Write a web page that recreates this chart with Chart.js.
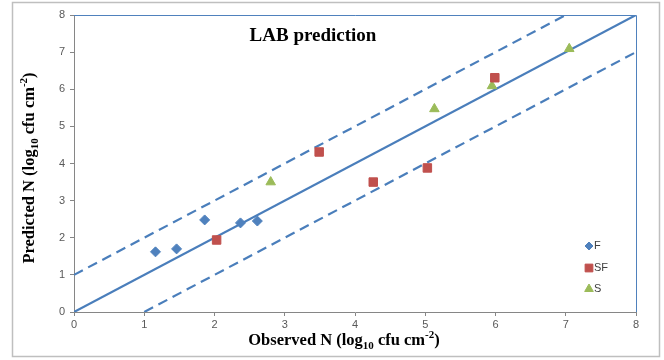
<!DOCTYPE html>
<html>
<head>
<meta charset="utf-8">
<script src="https://cdn.jsdelivr.net/npm/chart.js@4"></script>
<style>
  html, body { margin: 0; padding: 0; background: #fff; }
  #wrap { width: 664px; height: 360px; }
</style>
</head>
<body>
<div id="wrap"><canvas id="chart" width="664" height="360"></canvas></div>
<script>
// observed vs predicted (log10 cfu cm-2)
const fObserved = [1.16, 1.46, 1.86, 2.37, 2.61];
const fPredicted = [1.62, 1.70, 2.48, 2.40, 2.45];
const sfObserved = [2.03, 3.49, 4.26, 5.03, 5.99];
const sfPredicted = [1.94, 4.31, 3.50, 3.88, 6.31];
const sObserved = [2.80, 5.13, 5.95, 7.05];
const sPredicted = [3.50, 5.47, 6.09, 7.09];

// reference lines: y = x, y = x + 1, y = x - 1
const lineX = [0, 8];
const upperX = [0, 7];
const lowerX = [1, 8];

const axisMin = 0;
const axisMax = 8;

const blue = "#4F81BD";
const red = "#C0504D";
const green = "#9BBB59";
const lineBlue = "#4A7EBB";

const toPoints = (xs, ys) => xs.map((x, i) => ({ x, y: ys[i] }));
const shifted = (xs, d) => xs.map(x => ({ x, y: x + d }));

function drawRich(ctx, parts, size) {
  let w = 0;
  parts.forEach(p => {
    const fs = p.t === "n" ? size : Math.round(size * 0.68);
    ctx.font = "bold " + fs + "px 'Liberation Serif', 'Times New Roman', serif";
    w += ctx.measureText(p.s).width;
  });
  let x = -w / 2;
  parts.forEach(p => {
    const fs = p.t === "n" ? size : Math.round(size * 0.68);
    ctx.font = "bold " + fs + "px 'Liberation Serif', 'Times New Roman', serif";
    let dy = 0;
    if (p.t === "sub") dy = size * 0.3;
    if (p.t === "sup") dy = -size * 0.38;
    ctx.fillText(p.s, x, dy);
    x += ctx.measureText(p.s).width;
  });
}

const decorations = {
  id: "decorations",
  afterDraw(chart) {
    const { ctx, chartArea } = chart;
    ctx.save();

    // outer frame
    ctx.strokeStyle = "#BFBFBF";
    ctx.lineWidth = 1.5;
    ctx.strokeRect(12.5, 2.5, 647, 354);

    // top and right plot-area border
    ctx.strokeStyle = blue;
    ctx.lineWidth = 1;
    ctx.beginPath();
    ctx.moveTo(chartArea.left, chartArea.top + 0.5);
    ctx.lineTo(chartArea.right + 0.5, chartArea.top + 0.5);
    ctx.lineTo(chartArea.right + 0.5, chartArea.bottom);
    ctx.stroke();

    // title inside plot
    ctx.fillStyle = "#000";
    ctx.textBaseline = "middle";
    ctx.textAlign = "center";
    ctx.font = "bold 19px 'Liberation Serif', 'Times New Roman', serif";
    ctx.fillText("LAB prediction", 313, 36);

    // axis titles with sub/superscripts
    ctx.textAlign = "left";
    ctx.save();
    ctx.translate(344, 341);
    drawRich(ctx, [
      { t: "n", s: "Observed N (log" }, { t: "sub", s: "10" },
      { t: "n", s: " cfu cm" }, { t: "sup", s: "-2" }, { t: "n", s: ")" }
    ], 16.5);
    ctx.restore();

    ctx.save();
    ctx.translate(30, 168);
    ctx.rotate(-Math.PI / 2);
    drawRich(ctx, [
      { t: "n", s: "Predicted N (log" }, { t: "sub", s: "10" },
      { t: "n", s: " cfu cm" }, { t: "sup", s: "-2" }, { t: "n", s: ")" }
    ], 16.5);
    ctx.restore();

    // legend inside plot area
    const items = [
      { label: "F", style: "rectRot", color: blue, r: 4, y: 246 },
      { label: "SF", style: "rect", color: red, r: 5.5, y: 268 },
      { label: "S", style: "triangle", color: green, r: 5, y: 289 }
    ];
    ctx.font = "11px 'Liberation Sans', Arial, sans-serif";
    ctx.textBaseline = "middle";
    items.forEach(it => {
      ctx.fillStyle = it.color;
      ctx.strokeStyle = it.color;
      ctx.lineWidth = 1;
      Chart.helpers.drawPoint(ctx, { pointStyle: it.style, radius: it.r, borderWidth: 1 }, 589, it.y);
      ctx.fillStyle = "#404040";
      ctx.fillText(it.label, 594, it.y);
    });

    ctx.restore();
  }
};

const ctx = document.getElementById("chart").getContext("2d");
new Chart(ctx, {
  type: "scatter",
  data: {
    datasets: [
      {
        label: "1:1",
        data: shifted(lineX, 0),
        showLine: true,
        borderColor: lineBlue,
        borderWidth: 2.2,
        pointRadius: 0,
        order: 5
      },
      {
        label: "+1",
        data: shifted(upperX, 1),
        showLine: true,
        borderColor: lineBlue,
        borderWidth: 2.2,
        borderDash: [10, 6],
        pointRadius: 0,
        order: 5
      },
      {
        label: "-1",
        data: shifted(lowerX, -1),
        showLine: true,
        borderColor: lineBlue,
        borderWidth: 2.2,
        borderDash: [10, 6],
        pointRadius: 0,
        order: 5
      },
      {
        label: "F",
        data: toPoints(fObserved, fPredicted),
        pointStyle: "rectRot",
        pointRadius: 5,
        backgroundColor: blue,
        borderColor: blue,
        borderWidth: 1
      },
      {
        label: "SF",
        data: toPoints(sfObserved, sfPredicted),
        pointStyle: "rect",
        pointRadius: 6,
        backgroundColor: red,
        borderColor: red,
        borderWidth: 1
      },
      {
        label: "S",
        data: toPoints(sObserved, sPredicted),
        pointStyle: "triangle",
        pointRadius: 5.5,
        backgroundColor: green,
        borderColor: green,
        borderWidth: 1
      }
    ]
  },
  options: {
    responsive: false,
    animation: false,
    layout: { padding: { top: 15, right: 28, left: 0, bottom: 0 } },
    plugins: {
      legend: { display: false },
      title: { display: false },
      tooltip: { enabled: false }
    },
    scales: {
      x: {
        type: "linear",
        min: axisMin,
        max: axisMax,
        ticks: {
          stepSize: 1,
          padding: 2,
          color: "#595959",
          font: { family: "'Liberation Sans', Arial, sans-serif", size: 11 }
        },
        grid: {
          drawOnChartArea: false,
          drawTicks: true,
          tickLength: 4,
          color: "#868686"
        },
        border: { color: "#868686", width: 1 },
        afterFit(scale) { scale.height = 48; }
      },
      y: {
        type: "linear",
        min: axisMin,
        max: axisMax,
        ticks: {
          stepSize: 1,
          padding: 5,
          color: "#595959",
          font: { family: "'Liberation Sans', Arial, sans-serif", size: 11 }
        },
        grid: {
          drawOnChartArea: false,
          drawTicks: true,
          tickLength: 4,
          color: "#868686"
        },
        border: { color: "#868686", width: 1 },
        afterFit(scale) { scale.width = 74; }
      }
    }
  },
  plugins: [decorations]
});
</script>
</body>
</html>
